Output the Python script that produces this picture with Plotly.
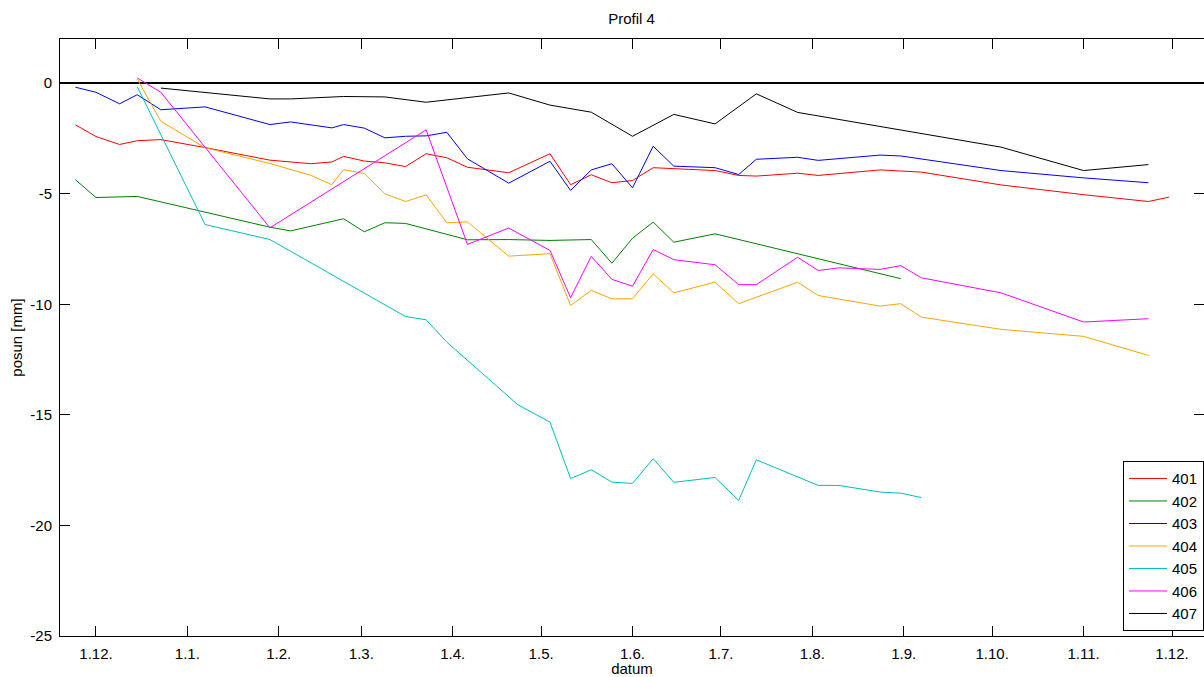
import plotly.graph_objects as go

# ---------------- data ----------------
dates_401 = ["2010-11-24", "2010-12-01", "2010-12-09", "2010-12-15", "2010-12-23", "2011-01-07",
             "2011-01-29", "2011-02-05", "2011-02-12", "2011-02-19", "2011-02-23", "2011-03-02",
             "2011-03-09", "2011-03-16", "2011-03-23", "2011-03-30", "2011-04-06", "2011-04-20",
             "2011-05-04", "2011-05-11", "2011-05-18", "2011-05-25", "2011-06-01", "2011-06-08",
             "2011-06-15", "2011-06-29", "2011-07-07", "2011-07-13", "2011-07-27", "2011-08-03",
             "2011-08-24", "2011-09-07", "2011-10-04", "2011-11-01", "2011-11-23", "2011-11-30"]
vals_401 = [-1.88, -2.41, -2.77, -2.60, -2.55, -2.91, -3.48, -3.57, -3.64, -3.56, -3.31, -3.52,
            -3.60, -3.77, -3.19, -3.37, -3.80, -4.05, -3.19, -4.59, -4.14, -4.50, -4.40, -3.82,
            -3.87, -3.95, -4.17, -4.20, -4.07, -4.17, -3.92, -4.02, -4.60, -5.04, -5.35, -5.15]

dates_402 = ["2010-11-24", "2010-12-01", "2010-12-15", "2011-01-29", "2011-02-05", "2011-02-23",
             "2011-03-02", "2011-03-09", "2011-03-16", "2011-04-06", "2011-04-20", "2011-05-04",
             "2011-05-18", "2011-05-25", "2011-06-01", "2011-06-08", "2011-06-15", "2011-06-29",
             "2011-08-31"]
vals_402 = [-4.36, -5.17, -5.12, -6.51, -6.68, -6.13, -6.72, -6.31, -6.34, -7.08, -7.07, -7.11,
            -7.07, -8.14, -7.01, -6.28, -7.19, -6.81, -8.84]

dates_403 = ["2010-11-24", "2010-12-01", "2010-12-09", "2010-12-15", "2010-12-23", "2011-01-07",
             "2011-01-29", "2011-02-05", "2011-02-19", "2011-02-23", "2011-03-02", "2011-03-09",
             "2011-03-16", "2011-03-23", "2011-03-30", "2011-04-06", "2011-04-20", "2011-05-04",
             "2011-05-11", "2011-05-18", "2011-05-25", "2011-06-01", "2011-06-08", "2011-06-15",
             "2011-06-29", "2011-07-07", "2011-07-13", "2011-07-27", "2011-08-03", "2011-08-24",
             "2011-08-31", "2011-10-04", "2011-11-01", "2011-11-23"]
vals_403 = [-0.18, -0.41, -0.93, -0.52, -1.20, -1.07, -1.87, -1.75, -2.02, -1.87, -2.03, -2.47,
            -2.40, -2.38, -2.22, -3.42, -4.52, -3.53, -4.85, -3.92, -3.64, -4.73, -2.85, -3.75,
            -3.82, -4.13, -3.44, -3.35, -3.49, -3.25, -3.29, -3.95, -4.28, -4.50]

dates_404 = ["2010-12-15", "2010-12-23", "2011-01-07", "2011-01-29", "2011-02-12", "2011-02-19",
             "2011-02-23", "2011-03-02", "2011-03-09", "2011-03-16", "2011-03-23", "2011-03-30",
             "2011-04-06", "2011-04-20", "2011-05-04", "2011-05-11", "2011-05-18", "2011-05-25",
             "2011-06-01", "2011-06-08", "2011-06-15", "2011-06-29", "2011-07-07", "2011-07-27",
             "2011-08-03", "2011-08-24", "2011-08-31", "2011-09-07", "2011-10-04", "2011-11-01",
             "2011-11-23"]
vals_404 = [0.19, -1.72, -2.92, -3.63, -4.17, -4.59, -3.91, -4.08, -5.00, -5.35, -5.05, -6.31,
            -6.27, -7.82, -7.71, -10.05, -9.37, -9.75, -9.75, -8.62, -9.48, -9.00, -9.97, -9.00,
            -9.60, -10.08, -9.97, -10.58, -11.13, -11.45, -12.31]

dates_405 = ["2010-12-15", "2011-01-07", "2011-01-29", "2011-03-16", "2011-03-23", "2011-03-30",
             "2011-04-23", "2011-05-04", "2011-05-11", "2011-05-18", "2011-05-25", "2011-06-01",
             "2011-06-08", "2011-06-15", "2011-06-29", "2011-07-07", "2011-07-13", "2011-08-03",
             "2011-08-10", "2011-08-24", "2011-08-31", "2011-09-07"]
vals_405 = [-0.16, -6.39, -7.07, -10.55, -10.70, -11.71, -14.53, -15.33, -17.88, -17.48, -18.04,
            -18.10, -16.98, -18.05, -17.83, -18.87, -17.03, -18.19, -18.19, -18.49, -18.54, -18.74]

dates_406 = ["2010-12-15", "2010-12-23", "2011-01-29", "2011-03-23", "2011-04-06", "2011-04-20",
             "2011-05-04", "2011-05-11", "2011-05-18", "2011-05-25", "2011-06-01", "2011-06-08",
             "2011-06-15", "2011-06-29", "2011-07-07", "2011-07-13", "2011-07-27", "2011-08-03",
             "2011-08-10", "2011-08-24", "2011-08-31", "2011-09-07", "2011-10-04", "2011-11-01",
             "2011-11-23"]
vals_406 = [0.24, -0.41, -6.54, -2.11, -7.29, -6.55, -7.56, -9.70, -7.83, -8.87, -9.18, -7.52,
            -7.98, -8.21, -9.11, -9.11, -7.87, -8.47, -8.35, -8.42, -8.25, -8.80, -9.48, -10.80,
            -10.65]

dates_407 = ["2010-12-23", "2011-01-29", "2011-02-05", "2011-02-23", "2011-03-09", "2011-03-23",
             "2011-04-20", "2011-05-04", "2011-05-18", "2011-06-01", "2011-06-15", "2011-06-29",
             "2011-07-13", "2011-07-27", "2011-10-04", "2011-11-01", "2011-11-23"]
vals_407 = [-0.22, -0.71, -0.71, -0.60, -0.62, -0.86, -0.44, -0.99, -1.31, -2.40, -1.41, -1.84,
            -0.48, -1.32, -2.89, -3.95, -3.68]

series_names = ["401", "402", "403", "404", "405", "406", "407"]

x_tick_dates = ["2010-12-01", "2011-01-01", "2011-02-01", "2011-03-01", "2011-04-01",
                "2011-05-01", "2011-06-01", "2011-07-01", "2011-08-01", "2011-09-01",
                "2011-10-01", "2011-11-01", "2011-12-01"]
x_tick_labels = ["1.12.", "1.1.", "1.2.", "1.3.", "1.4.", "1.5.", "1.6.", "1.7.", "1.8.",
                 "1.9.", "1.10.", "1.11.", "1.12."]
y_tick_values = [0, -5, -10, -15, -20, -25]
y_tick_labels = ["0", "-5", "-10", "-15", "-20", "-25"]

# ---------------- styling ----------------
colors = ["#ff0000", "#008000", "#0000ff", "#ffa500", "#00bfbf", "#ff00ff", "#000000"]
FONT = "Liberation Sans, Arial, sans-serif"

all_dates = [dates_401, dates_402, dates_403, dates_404, dates_405, dates_406, dates_407]
all_vals = [vals_401, vals_402, vals_403, vals_404, vals_405, vals_406, vals_407]

fig = go.Figure()
for name, xs, ys, col in zip(series_names, all_dates, all_vals, colors):
    fig.add_trace(go.Scatter(x=xs, y=ys, mode="lines", name=name,
                             line=dict(color=col, width=1)))

fig.update_layout(
    width=1204, height=677,
    margin=dict(l=60, r=0, t=39, b=41, autoexpand=False),
    paper_bgcolor="white", plot_bgcolor="white",
    font=dict(family=FONT, size=15, color="black"),
    title=dict(text="Profil 4", x=0.5246, xanchor="center", y=0.973, yanchor="middle",
               font=dict(family=FONT, size=15, color="black")),
    showlegend=True,
    legend=dict(x=1, xanchor="right", y=0.008, yanchor="bottom",
                bgcolor="white", bordercolor="black", borderwidth=1,
                font=dict(family=FONT, size=15, color="black"),
                itemwidth=38, tracegroupgap=0, traceorder="normal"),
)

fig.update_xaxes(
    type="date", automargin=False,
    range=["2010-11-18 19:00", "2011-12-11 20:24"],
    tickmode="array", tickvals=x_tick_dates, ticktext=x_tick_labels,
    ticks="inside", ticklen=10, tickwidth=1, tickcolor="black",
    showline=True, linecolor="black", linewidth=1, mirror="ticks",
    showgrid=False, zeroline=False,
    tickfont=dict(family=FONT, size=15, color="black"),
    ticklabelstandoff=4,
    title=dict(text="datum", standoff=0, font=dict(family=FONT, size=15, color="black")),
)

fig.update_yaxes(
    automargin=False,
    range=[-25, 2],
    tickmode="array", tickvals=y_tick_values, ticktext=y_tick_labels,
    ticks="inside", ticklen=10, tickwidth=1, tickcolor="black",
    showline=True, linecolor="black", linewidth=1, mirror="ticks",
    showgrid=False,
    zeroline=True, zerolinecolor="black", zerolinewidth=2,
    tickfont=dict(family=FONT, size=15, color="black"),
    ticklabelstandoff=4,
    title=dict(text="posun [mm]", standoff=4, font=dict(family=FONT, size=15, color="black")),
)

fig.write_html(
    "out.html",
    config={"displayModeBar": False},
    post_script="document.body.style.margin='0';document.body.style.overflow='hidden';",
)
